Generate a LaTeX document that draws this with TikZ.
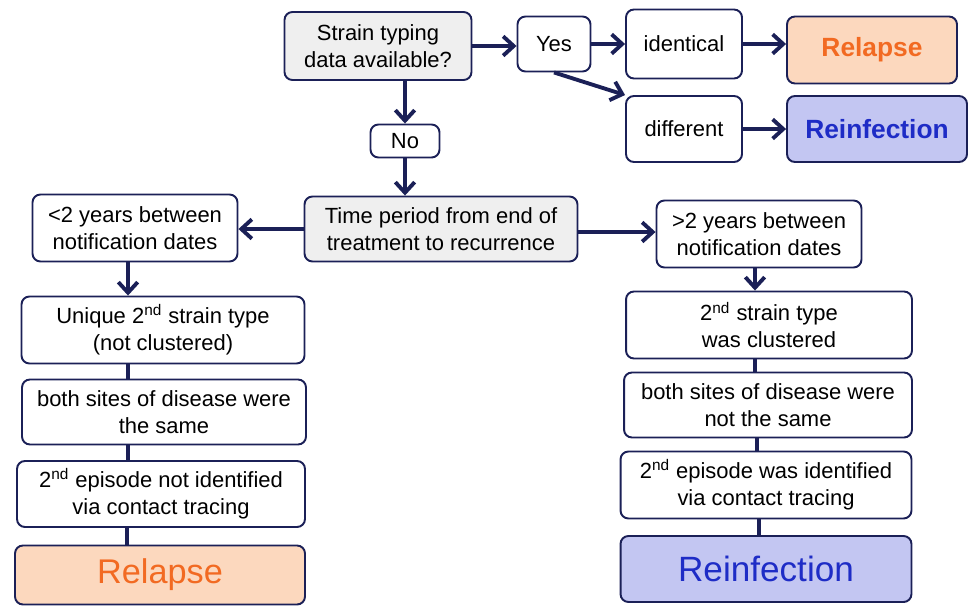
\documentclass[tikz,border=0pt]{standalone}
\usepackage{fontspec}
\setmainfont{Liberation Sans}
\usetikzlibrary{arrows.meta}
\definecolor{navyc}{HTML}{1B2057}
\definecolor{askc}{HTML}{EFEFEF}
\definecolor{relfill}{HTML}{FCD8BE}
\definecolor{reltext}{HTML}{F26A22}
\definecolor{reifill}{HTML}{C3C6F2}
\definecolor{reitext}{HTML}{1E2CC6}
\tikzset{
  box/.style={draw=navyc, line width=1.1pt, rounded corners=4.5pt, fill=white, align=center, inner sep=2pt, font=\fontsize{12.5}{15.5}\selectfont},
  askbox/.style={box, fill=askc},
  relbox/.style={box, fill=relfill, text=reltext},
  reibox/.style={box, fill=reifill, text=reitext},
  arr/.style={draw=navyc, line width=2.2pt, -{Straight Barb[length=6pt,width=11pt]}},
  link/.style={draw=navyc, line width=2.2pt},
}

\begin{document}
\begin{tikzpicture}[x=0.02cm, y=-0.02cm]
\useasboundingbox (0,0) rectangle (969,605);
% top row
\node[askbox, minimum width=3.74cm, minimum height=1.36cm] (ask) at (378,46) {Strain typing\\data available?};
\node[box, minimum width=1.46cm, minimum height=1.10cm] (yes) at (554,44) {Yes};
\node[box, minimum width=2.32cm, minimum height=1.38cm] (same) at (684,44) {identical};
\node[box, minimum width=2.32cm, minimum height=1.32cm] (diff) at (684,129) {different};
\node[relbox, minimum width=3.40cm, minimum height=1.34cm, font=\fontsize{15}{18}\selectfont\bfseries] (rel1) at (872,50) {Relapse};
\node[reibox, minimum width=3.60cm, minimum height=1.32cm, font=\fontsize{15}{18}\selectfont\bfseries] (rei1) at (877,129) {Reinfection};
\node[box, minimum width=1.38cm, minimum height=0.66cm] (no) at (405,141) {No};
% time period split
\node[askbox, minimum width=5.46cm, minimum height=1.30cm] (time) at (441,229) {Time period from end of\\treatment to recurrence};
\node[box, minimum width=4.10cm, minimum height=1.34cm] (lt) at (135,228) {<2 years between\\notification dates};
\node[box, minimum width=4.10cm, minimum height=1.34cm] (gt) at (759,234) {>2 years between\\notification dates};
% left column
\node[box, minimum width=5.66cm, minimum height=1.34cm] (uniq) at (163,330) {Unique 2\textsuperscript{nd} strain type\\(not clustered)};
\node[box, minimum width=5.68cm, minimum height=1.30cm] (lsite) at (164,412) {both sites of disease were\\the same};
\node[box, minimum width=5.76cm, minimum height=1.32cm] (lepi) at (161,494) {2\textsuperscript{nd} episode not identified\\via contact tracing};
\node[relbox, minimum width=5.80cm, minimum height=1.18cm, font=\fontsize{19.5}{22}\selectfont] (rel2) at (160,575) {Relapse};
% right column
\node[box, minimum width=5.72cm, minimum height=1.34cm] (clus) at (769,325) {2\textsuperscript{nd} strain type\\was clustered};
\node[box, minimum width=5.76cm, minimum height=1.30cm] (rsite) at (768,405) {both sites of disease were\\not the same};
\node[box, minimum width=5.82cm, minimum height=1.34cm] (repi) at (766,485) {2\textsuperscript{nd} episode was identified\\via contact tracing};
\node[reibox, minimum width=5.82cm, minimum height=1.32cm, font=\fontsize{20}{22}\selectfont] (rei2) at (766,569) {Reinfection};
% arrows
\draw[arr] (ask.east) -- (ask.east -| yes.west);
\draw[arr] (yes.east) -- (yes.east -| same.west);
\draw[arr] (yes.south) -- (diff.north west);
\draw[arr] (same.east) -- (same.east -| rel1.west);
\draw[arr] (diff.east) -- (diff.east -| rei1.west);
\draw[arr] (ask.south -| no.north) -- (no.north);
\draw[arr] (no.south) -- (no.south |- time.north);
\draw[arr] (time.west) -- (time.west -| lt.east);
\draw[arr] ([yshift=-0.06cm]time.east) -- ([yshift=-0.06cm]time.east -| gt.west);
\draw[arr] ([xshift=-0.14cm]lt.south) -- ([xshift=-0.14cm]lt.south |- uniq.north);
\draw[arr] ([xshift=-0.08cm]gt.south) -- ([xshift=-0.08cm]gt.south |- clus.north);
% plain links
\draw[link] ([xshift=-0.14cm]lt.south |- uniq.south) -- ([xshift=-0.14cm]lt.south |- lsite.north);
\draw[link] ([xshift=-0.14cm]lt.south |- lsite.south) -- ([xshift=-0.14cm]lt.south |- lepi.north);
\draw[link] ([xshift=-0.16cm]lt.south |- lepi.south) -- ([xshift=-0.16cm]lt.south |- rel2.north);
\draw[link] ([xshift=-0.08cm]gt.south |- clus.south) -- ([xshift=-0.08cm]gt.south |- rsite.north);
\draw[link] ([xshift=-0.04cm]gt.south |- rsite.south) -- ([xshift=-0.04cm]gt.south |- repi.north);
\draw[link] (gt.south |- repi.south) -- (gt.south |- rei2.north);
\end{tikzpicture}
\end{document}
